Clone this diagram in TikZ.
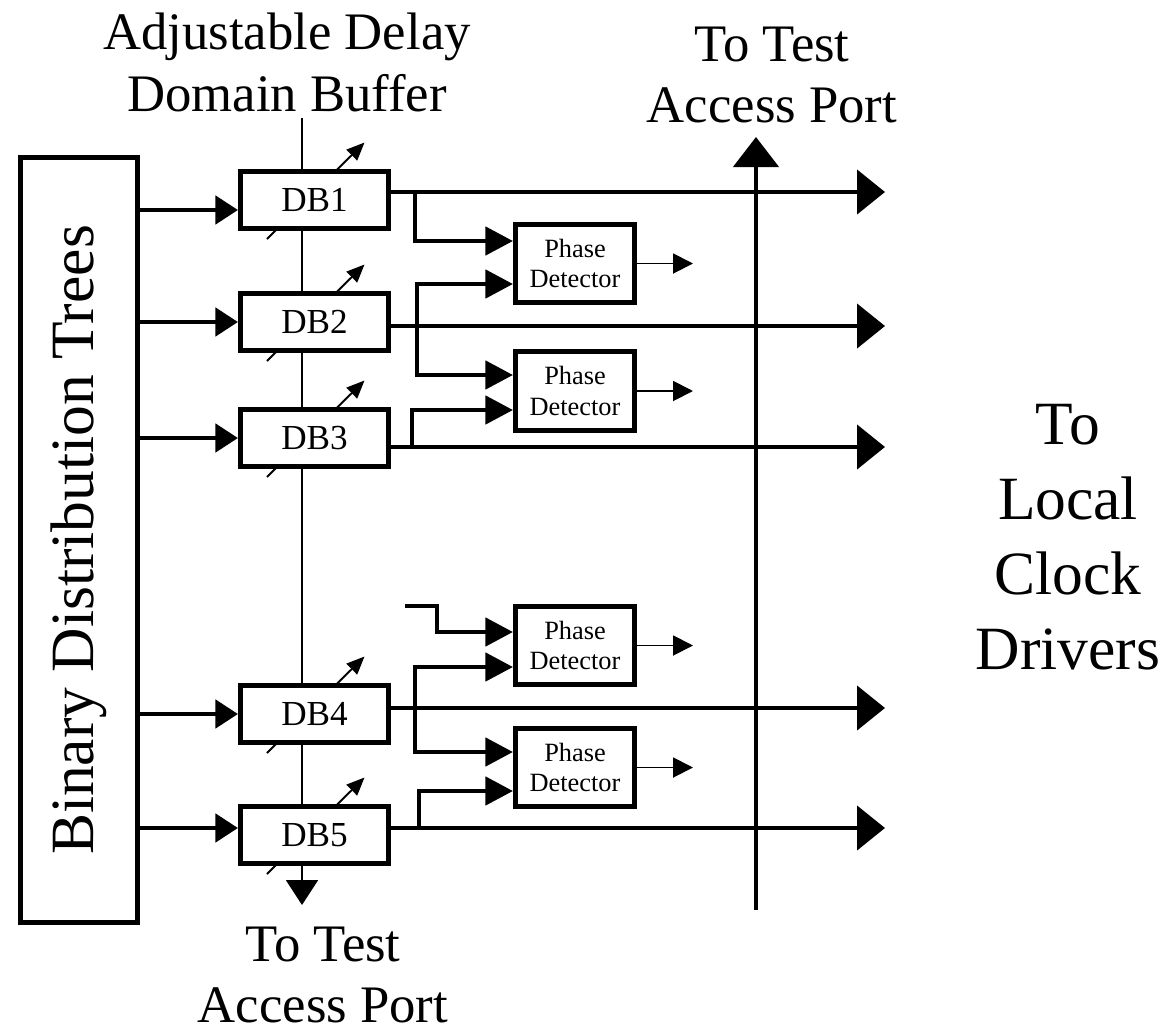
\documentclass[tikz,border=0pt]{standalone}
\usepackage{fontspec}
\setmainfont{Liberation Serif}
\usetikzlibrary{arrows.meta, positioning, calc}

\begin{document}
\begin{tikzpicture}
        \useasboundingbox (0,0) rectangle (23.34,-20.66);
        % --- Styles ---
        \tikzstyle{bus}=[line width=2.6pt]
        \tikzstyle{wire}=[line width=1.1pt]
        \tikzstyle{treebox}=[draw, line width=2.6pt, minimum width=15.31cm, minimum height=2.35cm, inner sep=0pt, font=\fontsize{35}{42}\selectfont]
        \tikzstyle{dbbox}=[draw, line width=2.6pt, fill=white, minimum width=2.97cm, minimum height=1.13cm, inner sep=0pt, font=\fontsize{20}{24}\selectfont]
        \tikzstyle{pdbox}=[draw, line width=2.6pt, fill=white, minimum width=2.39cm, minimum height=1.57cm, inner sep=0pt, align=center, font=\fontsize{15}{17.6}\selectfont]
        \tikzstyle{title}=[align=center, font=\fontsize{30}{35}\selectfont]
        \tikzstyle{bigtitle}=[align=center, font=\fontsize{35}{42.7}\selectfont]
        \tikzstyle{intip}=[-{Triangle[length=0.45cm, width=0.56cm]}]
        \tikzstyle{pdtip}=[-{Triangle[length=0.55cm, width=0.56cm]}]
        \tikzstyle{bigtip}=[-{Triangle[length=0.56cm, width=0.88cm]}]
        \tikzstyle{smalltip}=[-{Triangle[length=0.4cm, width=0.4cm]}]
        \tikzstyle{adjtip}=[-{Triangle[length=0.36cm, width=0.3cm]}]

        % --- 1. Binary distribution trees ---
        \node[treebox, rotate=90] (bdt) at (1.58,-10.8) {Binary Distribution Trees};

        % --- 2. Domain buffers (adjust arrow drawn first, box on top) ---
        \foreach \i/\y in {1/-4.0, 2/-6.44, 3/-8.76, 4/-14.28, 5/-16.7} {
            \draw[wire, adjtip] (5.34,{\y-0.78}) -- (7.29,{\y+1.15});
            \node[dbbox] (db\i) at (6.29,\y) {DB\i};
        }

        % --- 3. Phase detectors ---
        \foreach \i/\y in {1/-5.27, 2/-7.82, 3/-12.91, 4/-15.35}
            \node[pdbox] (pd\i) at (11.5,\y) {Phase\\Detector};

        % --- 4. Labels ---
        \node[title] (lblbuf) at (5.74,-1.25) {Adjustable Delay\\Domain Buffer};
        \node[title] (lbltop) at (15.44,-1.5) {To Test\\Access Port};
        \node[title] (lblbot) at (6.46,-19.5) {To Test\\Access Port};
        \node[bigtitle] (lblclk) at (21.36,-10.75) {To\\Local\\Clock\\Drivers};

        % --- 5. Scan chain through the buffers ---
        \coordinate (adtop) at (6.04,-2.36);
        \coordinate (adbot) at (6.04,-18.1);
        \draw[wire] (adtop) -- (adtop |- db1.north);
        \foreach \a/\b in {1/2, 2/3, 3/4, 4/5}
            \draw[wire] (adtop |- db\a.south) -- (adtop |- db\b.north);
        \draw[wire, -{Triangle[length=0.5cm, width=0.64cm]}] (adtop |- db5.south) -- (adbot);

        % --- 6. Inputs and outputs of the buffers ---
        \coordinate (rhs) at (17.7,0);
        \foreach \i/\din/\dout in {1/-0.2/0.16, 2/0/-0.08, 3/0/-0.18, 4/0/0.12, 5/0.14/0.14} {
            \path ([yshift=\din cm]db\i.west) coordinate (in\i);
            \path ([yshift=\dout cm]db\i.east) coordinate (out\i);
            \draw[bus, intip] (in\i -| bdt.south) -- (in\i);
            \draw[bus, bigtip] (out\i) -- (out\i -| rhs);
        }

        % --- 7. Taps to the phase detectors ---
        \coordinate (j1) at (8.30,-3.84);
        \coordinate (j2) at (8.34,-6.52);
        \coordinate (j3) at (8.24,-8.94);
        \coordinate (j4) at (8.30,-14.16);
        \coordinate (j5) at (8.38,-16.56);
        \coordinate (stub) at (8.1,-12.12);
        \coordinate (bend) at (8.74,-12.4);
        \draw[bus, pdtip] (j1) |- ([yshift=0.45cm]pd1.west);
        \draw[bus, pdtip] (j2) |- ([yshift=-0.41cm]pd1.west);
        \draw[bus, pdtip] (j2) |- ([yshift=0.32cm]pd2.west);
        \draw[bus, pdtip] (j3) |- ([yshift=-0.38cm]pd2.west);
        \draw[bus, pdtip] (stub) -| (bend) |- ([yshift=0.27cm]pd3.west);
        \draw[bus, pdtip] (j4) |- ([yshift=-0.43cm]pd3.west);
        \draw[bus, pdtip] (j4) |- ([yshift=0.31cm]pd4.west);
        \draw[bus, pdtip] (j5) |- ([yshift=-0.47cm]pd4.west);

        % detector outputs
        \coordinate (px) at (13.86,0);
        \foreach \i in {1,...,4}
            \draw[wire, smalltip] (pd\i.east) -- (pd\i.east -| px);

        % --- 8. Test access port line ---
        \coordinate (tapbot) at (15.12,-18.2);
        \coordinate (taptop) at (15.12,-2.74);
        \draw[bus, -{Triangle[length=0.6cm, width=0.9cm]}] (tapbot) -- (taptop);

    \end{tikzpicture}
\end{document}
